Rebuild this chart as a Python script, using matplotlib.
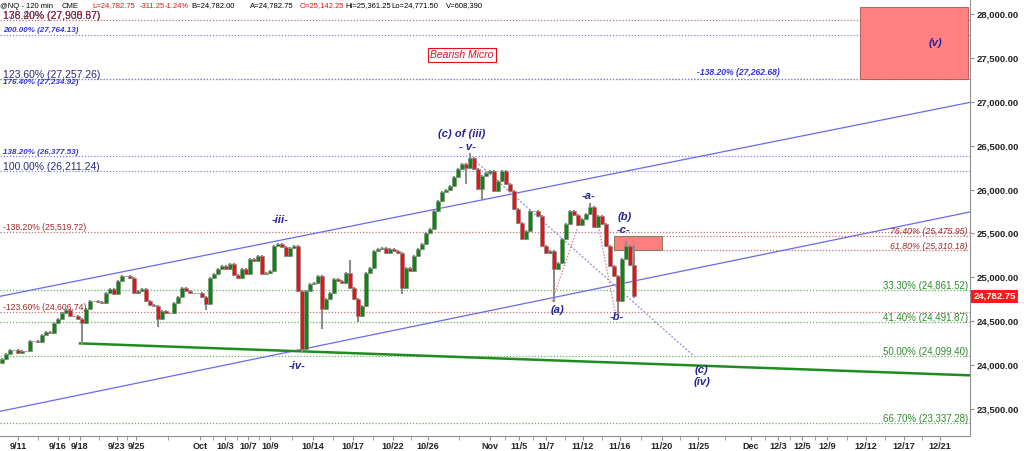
import matplotlib.pyplot as plt
from matplotlib.patches import Rectangle

# 120-min candles, closes (one bar every ~4 px)
first_open = 24020
closes = [
    24066, 24123, 24169, 24169, 24134, 24157, 24157, 24271, 24271, 24260,
    24339, 24374, 24362, 24476, 24522, 24590, 24624, 24556, 24556, 24522,
    24476, 24636, 24727, 24727, 24715, 24704, 24818, 24863, 24806, 24954,
    25011, 25011, 24989, 24818, 24841, 24863, 24727, 24681, 24670, 24522,
    24613, 24590, 24590, 24704, 24772, 24875, 24841, 24818, 24818, 24818,
    24772, 24692, 24989, 25034, 25091, 25125, 25091, 25148, 25023, 24989,
    25091, 25034, 25205, 25182, 25239, 25034, 25046, 25068, 25353, 25376,
    25342, 25239, 25330, 25353, 24841, 24180, 24841, 24920, 24932, 25011,
    24636, 24749, 24818, 24977, 24954, 24932, 25046, 24875, 24749, 24556,
    24670, 25046, 25103, 25296, 25319, 25330, 25273, 25319, 25296, 25273,
    24875, 25103, 25068, 25239, 25319, 25376, 25501, 25547, 25752, 25866,
    25968, 25991, 26036, 26139, 26230, 26287, 26242, 26355, 26230, 26002,
    26150, 26185, 26207, 25980, 26093, 26207, 26059, 25980, 25775, 25615,
    25433, 25524, 25752, 25752, 25695, 25353, 25273, 25296, 25091, 25159,
    25433, 25604, 25752, 25706, 25592, 25661, 25718, 25797, 25570, 25695,
    25604, 25353, 25125, 25011, 24727, 25205, 25353, 25142.25, 24782.75,
]
# wick extremes that stick out of the bodies
low_wicks = {20: 24248, 39: 24442, 51: 24636, 75: 24157, 80: 24419, 89: 24499,
             100: 24818, 116: 26071, 120: 25888, 138: 24727, 154: 24590, 158: 24771.5}
high_wicks = {87: 25182, 117: 26400, 147: 25831, 156: 25400, 158: 25361.25}

tick_pos = [4, 14, 19.5, 28.75, 33.5, 49.5, 55.75, 61.5, 67, 77.75, 87.75, 97.75,
            106.5, 122, 129.25, 136, 145.25, 154.5, 165, 174, 187.25, 194, 200,
            206.25, 216, 225.5, 234.5]
tick_labels = ["9/11", "9/16", "9/18", "9/23", "9/25", "Oct", "10/3", "10/7", "10/9",
               "10/14", "10/17", "10/22", "10/26", "Nov", "11/5", "11/7", "11/12",
               "11/16", "11/20", "11/25", "Dec", "12/3", "12/5", "12/9", "12/12",
               "12/17", "12/21"]
price_ticks = [23500, 24000, 24500, 25000, 25500, 26000, 26500, 27000, 27500, 28000]

# full-width fib levels: value, label, colour, size, style
left_levels = [27930.87, 27764.13, 27257.26, 26377.53, 26211.24, 25519.72, 24606.74]
left_labels = ["138.20% (27,930.87)", "200.00% (27,764.13)", "123.60% (27,257.26)",
               "138.20% (26,377.53)", "100.00% (26,211.24)", "-138.20% (25,519.72)",
               "-123.60% (24,606.74)"]
left_colors = ["#2a2a80", "#3333dd", "#2a2a80", "#3333dd", "#2a2a80", "#a02828", "#a02828"]
left_sizes = [7.5, 5.8, 7.5, 5.8, 7.5, 6.2, 6.2]
left_styles = ["normal", "italic", "normal", "italic", "normal", "normal", "normal"]
left_line_colors = ["#c07070", "#8080ee", "#8080ee", "#8080ee", "#8080ee", "#c07070", "#c07070"]

right_levels = [25475.95, 25310.18, 24861.52, 24491.87, 24099.40, 23337.28]
right_labels = ["76.40% (25,475.95)", "61.80% (25,310.18)", "33.30% (24,861.52)",
                "41.40% (24,491.87)", "50.00% (24,099.40)", "66.70% (23,337.28)"]
right_colors = ["#a02828", "#a02828", "#2e8b2e", "#2e8b2e", "#2e8b2e", "#2e8b2e"]
right_starts = [165.25, 165.25, -0.5, -0.5, -0.5, -0.5]

upper_channel = [(-0.5, 24784), (242, 26993)]
lower_channel = [(-0.5, 23474), (242, 25745)]
green_trend = [(19.5, 24248), (242, 23884)]
down_diag = [(117, 26378), (172.75, 24112)]
red_diag_1 = [(137.5, 24727), (143.75, 25547)]
red_diag_2 = [(148.25, 25786), (153.25, 24613)]

wave_labels = ["-iii-", "(c) of (iii)", "- v-", "-a-", "(b)", "-c-", "(a)", "-b-",
               "-iv-", "(c)", "(iv)", "(v)"]
wave_x = [69.5, 115, 116.25, 146.75, 155.75, 155.5, 138.75, 153.75, 73.75, 174.75, 175, 233.25]
wave_y = [25649, 26629, 26481, 25922, 25683, 25535, 24624, 24544, 23986, 23941, 23804, 27670]

header_parts = ["@NQ - 120 min", "CME", "L=24,782.75", "-311.25", "-1.24%", "B=24,782.00",
                "A=24,782.75", "O=25,142.25", "Hi=25,361.25", "Lo=24,771.50", "V=608,390"]
header_colors = ["black", "black", "#ee1111", "#ee1111", "#ee1111", "black",
                 "black", "#ee1111", "black", "black", "black"]
header_px = [0, 62, 92, 140, 165, 191, 250, 300, 345, 391, 446]

NAVY = "#24249a"
TICKFONT = ["Liberation Sans", "DejaVu Sans"]


def main():
    plt.rcParams.update({"font.family": ["Liberation Sans", "DejaVu Sans"]})
    fig = plt.figure(figsize=(10.24, 4.51), dpi=100)
    ax = fig.add_axes([0, 15 / 451, 970 / 1024, 436 / 451])
    ax.set_xlim(-0.5, 242)
    ax.set_ylim(23193, 28159)

    dotted = (0, (1, 1.5))
    # fib levels
    for val, lab, col, sz, st, lc in zip(left_levels, left_labels, left_colors,
                                          left_sizes, left_styles, left_line_colors):
        ax.axhline(val, color=lc, lw=0.9, ls=dotted, zorder=1)
        ax.text(0.3, val + 50, lab, color=col, fontsize=sz, style=st,
                fontweight="bold" if st == "italic" else "normal", va="center", zorder=5)
    ax.axhline(27262.68, color="#8080ee", lw=0.9, ls=dotted, zorder=1)
    ax.text(173.75, 27330, "-138.20% (27,262.68)", color="#3333dd", fontsize=6.2,
            style="italic", fontweight="bold", va="center", zorder=5)
    # overlapping labels at the top-left
    ax.text(0.3, 27980, "176.40% (27,908.57)", color="#a02828", fontsize=7.5,
            va="center", zorder=5)
    ax.text(0.3, 27225, "176.40% (27,234.92)", color="#3333dd", fontsize=5.8,
            style="italic", fontweight="bold", va="center", zorder=5)

    for val, lab, col, x0 in zip(right_levels, right_labels, right_colors, right_starts):
        lc = "#c07070" if col == "#a02828" else "#60b060"
        ax.plot([x0, 242], [val, val], color=lc, lw=0.9, ls=dotted, zorder=1)
        ax.text(241.5, val + 45, lab, color=col, fontsize=7 if col == "#2e8b2e" else 6.4,
                style="italic" if col == "#a02828" else "normal",
                ha="right", va="center", zorder=5)

    # boxes
    ax.add_patch(Rectangle((214.5, 27262), 27, 818, facecolor="#ff8080",
                           edgecolor="#b05050", lw=0.6, zorder=2))
    ax.add_patch(Rectangle((153, 25310.18), 12, 165.77, facecolor="#ff7f7f",
                           edgecolor="#808060", lw=0.8, zorder=2))

    # trend lines
    for seg in (upper_channel, lower_channel):
        ax.plot(*zip(*seg), color="#6a6aee", lw=0.9, zorder=3)
    ax.plot(*zip(*green_trend), color="#1f8c1f", lw=1.8, zorder=3)
    ax.plot(*zip(*down_diag), color="#8a8aee", lw=0.9, ls=(0, (1.5, 1.5)), zorder=3)
    for seg in (red_diag_1, red_diag_2):
        ax.plot(*zip(*seg), color="#d07070", lw=0.9, ls=dotted, zorder=3)

    # candles
    opens = [first_open] + closes[:-1]
    for i, (o, c) in enumerate(zip(opens, closes)):
        hi = high_wicks.get(i, max(o, c))
        lo = low_wicks.get(i, min(o, c))
        ax.plot([i, i], [lo, hi], color="#8c8c8c", lw=1.5, zorder=4)
        col = "#0a8a0a" if c >= o else "#ee1111"
        h = abs(c - o) if abs(c - o) > 8 else 8
        ax.add_patch(Rectangle((i - 0.45, min(o, c)), 0.9, h, facecolor=col,
                               edgecolor="#8c8c8c", lw=0.5, zorder=4))

    # wave labels
    for lab, x, y in zip(wave_labels, wave_x, wave_y):
        ax.text(x, y, lab, color=NAVY, fontsize=8, style="italic", fontweight="bold",
                ha="center", va="center", zorder=6)
    ax.text(115, 27533, "Bearish Micro", color="#e01010", fontsize=7.5, style="italic",
            ha="center", va="center", zorder=6,
            bbox=dict(boxstyle="square,pad=0.2", facecolor="white", edgecolor="#e01010", lw=0.8))

    # axes styling
    for s in ("left", "top"):
        ax.spines[s].set_visible(False)
    for s in ("right", "bottom"):
        ax.spines[s].set_color("#909090")
    ax.yaxis.tick_right()
    ax.set_yticks(price_ticks)
    ax.set_yticklabels([f"{v:,.2f}" for v in price_ticks])
    ax.set_xticks(tick_pos)
    ax.set_xticklabels(tick_labels)
    mids = [(a + b) / 2 for a, b in zip(tick_pos[:-1], tick_pos[1:])]
    ax.set_xticks(mids, minor=True)
    ax.tick_params(axis="y", length=3, pad=1.5, labelsize=6.8, colors="#909090", labelcolor="#222222")
    ax.tick_params(axis="x", which="both", length=3, pad=1.5, labelsize=6.5,
                   colors="#909090", labelcolor="#222222")
    for t in ax.get_xticklabels() + ax.get_yticklabels():
        t.set_fontweight("bold")
        t.set_fontfamily(TICKFONT)

    # last price marker
    ax.annotate("24,782.75", xy=(1.0, closes[-1]), xycoords=("axes fraction", "data"),
                xytext=(2.5, 0), textcoords="offset points", color="white", fontsize=6.8,
                fontweight="bold", family=TICKFONT, va="center", ha="left",
                bbox=dict(boxstyle="square,pad=0.25", facecolor="#ff1a1a", edgecolor="none"),
                zorder=7, annotation_clip=False)

    # header line
    for txt, col, px in zip(header_parts, header_colors, header_px):
        fig.text(px / 1024, 1 - 6 / 451, txt, color=col, fontsize=5.5, va="center", ha="left",
                 family=TICKFONT)

    fig.savefig("out.png", dpi=100, facecolor="white")


if __name__ == "__main__":
    main()
